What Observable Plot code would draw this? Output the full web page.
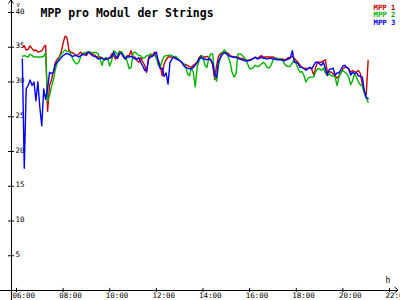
<!DOCTYPE html>
<html><head><meta charset="utf-8">
<script src="https://cdn.jsdelivr.net/npm/d3@7"></script>
<script src="https://cdn.jsdelivr.net/npm/@observablehq/plot@0.6"></script>
<style>
html,body{margin:0;padding:0;background:#fff;}
#chart{width:400px;height:300px;overflow:hidden;}
svg{display:block;}
</style></head><body><div id="chart"></div>
<script>
const title = "MPP pro Modul der Strings";
const seriesNames = ["MPP 1", "MPP 2", "MPP 3"];
const seriesColors = ["#c80000", "#00b400", "#0000ff"];
const yUnit = "V";
const xUnit = "h";
const xTicks = [6, 8, 10, 12, 14, 16, 18, 20, 22];
const xTickLabels = ["06:00", "08:00", "10:00", "12:00", "14:00", "16:00", "18:00", "20:00", "22:00"];
const yTicks = [5, 10, 15, 20, 25, 30, 35, 40];
// samples every 5 minutes starting 06:15
const startHour = 6.25;
const stepHours = 5 / 60;

const mpp1 = [
35.0,35.2,34.6,34.7,35.2,34.8,34.5,34.6,34.3,34.4,34.5,35.0,35.3,
25.8,29.5,30.3,31.5,32.8,33.3,33.6,34.3,35.6,36.6,36.4,34.6,34.3,34.2,34.0,
33.8,34.0,34.3,33.9,34.0,33.8,34.3,
34.3,34.05,33.9,33.7,33.6,33.6,33.5,33.1,33.3,33.3,33.4,34.05,33.8,33.3,33.8,34.4,34.2,33.6,33.3,33.8,33.8,34.5,33.4,33.6,33.1,32.85,33.5,32.85,32.4,31.4,33.6,33.8,33.8,34.3,33.4,33.1,32.4,30.9,32.6,33.2,33.6,33.6,33.6,33.6,33.3,33.3,33.1,32.85,32.6,32.5,32.4,
32.2,32.1,32.4,32.6,32.9,33.5,33.8,33.6,33.6,33.7,33.5,33.2,32.4,30.4,32.4,33.7,34.1,34.2,34.3,34.2,34.1,33.8,33.7,33.6,33.6,33.6,33.4,33.4,33.3,33.2,33.1,33.2,33.3,33.4,33.5,33.4,33.6,33.8,33.6,33.6,33.6,33.6,33.6,33.6,33.5,33.4,33.3,33.3,33.3,33.2,
33.3,33.5,33.5,33.7,33.4,33.1,32.8,32.4,32.1,32.0,32.0,31.9,32.1,31.8,31.0,32.1,32.85,32.85,32.85,33.05,33.2,31.4,31.5,31.4,31.2,30.9,30.55,30.9,31.3,31.9,32.1,32.1,31.9,31.4,31.65,31.5,31.4,31.65,31.2,29.7,28.6,28.1,33.1
];
const mpp2 = [
33.7,33.8,33.7,33.6,34.0,33.8,33.6,33.6,33.6,33.6,33.6,33.7,34.2,
27.3,28.0,29.3,30.3,31.8,32.8,33.5,34.0,34.3,34.6,34.4,34.4,34.0,33.3,32.8,32.6,32.8,
33.6,34.1,34.2,34.3,34.3,
34.25,34.2,34.25,34.25,34.05,33.3,32.4,33.3,33.5,33.3,32.3,33.1,34.5,34.3,33.9,34.2,34.4,33.9,33.6,32.95,31.9,32.1,34.2,34.3,34.05,33.8,33.8,33.4,33.5,33.8,33.8,34.05,33.9,33.8,33.6,32.4,32.1,33.1,33.7,33.8,33.8,33.9,33.8,33.6,33.7,33.4,33.1,32.85,32.6,32.3,31.2,
30.9,32.0,31.4,29.3,32.1,33.1,33.7,33.7,32.4,32.1,33.4,34.05,34.05,30.8,30.1,32.4,33.6,34.3,34.6,34.3,33.6,32.8,31.4,30.7,31.2,34.05,34.05,33.9,33.6,33.2,32.6,31.9,31.9,32.1,32.4,32.2,32.3,32.6,32.85,32.6,32.1,32.0,32.4,33.1,33.5,33.3,33.3,33.3,33.1,32.6,
32.3,32.2,32.3,32.8,33.2,32.6,31.9,31.4,31.5,30.9,30.0,30.5,30.7,30.7,30.7,31.5,31.9,31.9,31.65,32.0,31.3,30.9,31.2,30.9,30.9,30.7,29.5,30.7,31.4,31.65,31.4,31.2,30.7,29.6,30.2,31.2,30.7,30.0,29.6,29.4,28.4,27.7,27.1
];
const mpp3 = [
33.3,17.6,29.0,29.5,30.3,29.5,30.0,27.3,30.0,26.4,23.7,29.0,27.5,
29.0,31.4,31.2,31.4,32.5,32.9,33.1,33.5,33.8,34.0,34.1,34.0,33.8,33.7,33.8,33.8,33.6,
33.8,34.0,33.9,34.1,34.3,
34.05,33.8,33.7,33.6,33.3,33.4,33.4,33.3,33.3,33.4,33.5,33.6,34.3,33.7,33.4,34.05,34.15,33.7,33.3,33.6,33.6,33.7,33.6,33.3,33.3,33.5,32.8,32.3,31.65,31.6,33.3,33.6,33.7,34.05,34.3,32.95,31.9,32.0,30.8,31.3,29.7,32.8,33.3,33.6,33.4,33.2,33.1,32.85,32.4,32.1,32.0,
31.9,31.9,32.1,32.4,32.8,33.3,33.6,33.3,33.3,33.2,33.3,33.2,32.7,31.0,30.7,33.0,33.5,34.0,34.2,34.1,33.8,33.7,33.6,33.6,33.5,33.4,33.3,33.2,33.1,33.0,33.05,33.1,33.2,33.4,33.6,33.3,33.4,33.6,33.4,33.4,33.3,33.4,33.4,33.3,33.3,33.2,33.2,33.2,33.1,33.1,
33.2,33.3,33.5,34.5,32.85,32.8,32.6,32.1,32.1,31.9,31.7,31.9,32.1,31.9,32.4,32.85,32.85,32.6,32.4,32.85,31.9,31.0,31.8,31.9,32.0,31.0,31.3,31.3,31.8,32.3,32.4,32.1,31.9,31.0,31.4,31.2,31.3,30.9,30.8,30.7,28.8,27.8,27.6
];

const times = mpp1.map((_, i) => startHour + i * stepHours);
const rows = [];
[mpp1, mpp2, mpp3].forEach((vals, s) =>
  vals.forEach((v, i) => rows.push({t: times[i], v, s: seriesNames[s]})));

const font = "'DejaVu Sans Mono', 'Liberation Mono', monospace";
const axisX = 5.7855;   // hour where the vertical axis line sits
const xLeft = 5.3137, xRight = 22.386, yBottom = -1.45, yTop = 41.73;

const legendMarks = seriesNames.map((n, i) =>
  Plot.text([n], {frameAnchor: "top-right", text: d => d, fill: seriesColors[i],
    textAnchor: "end", dx: 6, dy: -7.8 + i * 7.6, fontSize: 7.3, fontWeight: "bold"}));

const chart = Plot.plot({
  width: 400, height: 300,
  marginLeft: 16, marginRight: 11, marginTop: 12, marginBottom: 10,
  x: {domain: [6, 22], axis: null},
  y: {domain: [0, 40], axis: null},
  color: {domain: seriesNames, range: seriesColors},
  style: {fontFamily: font, background: "#fff", overflow: "visible", color: "#000"},
  marks: [
    Plot.ruleY([0], {x1: xLeft, x2: xRight, stroke: "#000", strokeWidth: 1}),
    Plot.ruleX([axisX], {y1: yBottom, y2: yTop, stroke: "#000", strokeWidth: 1}),
    Plot.ruleX(xTicks, {y1: -0.3, y2: 0.3, stroke: "#000"}),
    Plot.ruleY(yTicks, {x1: axisX - 0.13, x2: axisX + 0.13, stroke: "#000"}),
    Plot.text(xTicks, {x: d => d, y: 0, text: (d, i) => xTickLabels[i], textAnchor: "start",
      dx: -4, dy: 5, fontSize: 7.5, fill: "#000"}),
    Plot.text(yTicks, {x: axisX, y: d => d, text: d => String(d), textAnchor: "start",
      dx: 4, dy: -1.2, fontSize: 7.5, fill: "#000"}),
    Plot.text([yUnit], {frameAnchor: "top-left", text: d => d, textAnchor: "start", dx: 0, dy: -9.5, fontSize: 5.5, fill: "#000"}),
    Plot.text([xUnit], {frameAnchor: "bottom-right", text: d => d, textAnchor: "start", dx: -4, dy: -7.5, fontSize: 8, fill: "#000"}),
    Plot.text([title], {frameAnchor: "top-left", text: d => d, textAnchor: "start", dx: 24, dy: -3.7,
      fontSize: 11.5, fontWeight: "bold", fill: "#000"}),
    Plot.line(rows, {x: "t", y: "v", z: "s", stroke: "s", strokeWidth: 1.4}),
    ...legendMarks
  ]
});

// axis arrowheads
const sx = chart.scale("x"), sy = chart.scale("y");
const svg = d3.select(chart);
const ax = sx.apply(axisX), ayTop = sy.apply(yTop);
svg.append("path").attr("d", `M${ax - 2.5},${ayTop + 3.5}L${ax},${ayTop}L${ax + 2.5},${ayTop + 3.5}`)
  .attr("fill", "none").attr("stroke", "#000");
const bx = sx.apply(xRight), by = sy.apply(0);
svg.append("path").attr("d", `M${bx - 3.5},${by - 3}L${bx},${by}L${bx - 3.5},${by + 3}`)
  .attr("fill", "none").attr("stroke", "#000");

document.getElementById("chart").appendChild(chart);
</script></body></html>
